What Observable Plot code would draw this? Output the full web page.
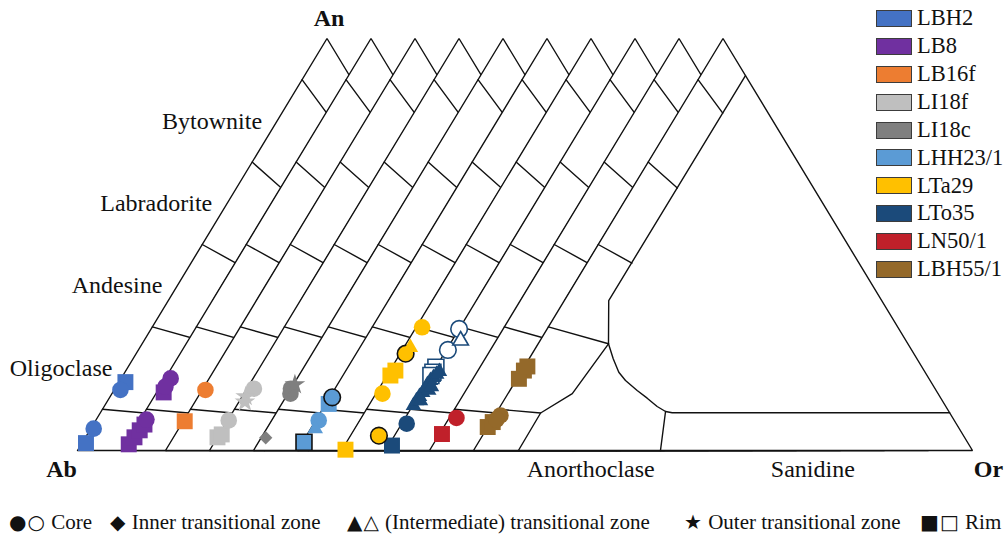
<!DOCTYPE html>
<html>
<head>
<meta charset="utf-8">
<script src="https://cdn.jsdelivr.net/npm/d3@7"></script>
<script src="https://cdn.jsdelivr.net/npm/@observablehq/plot@0.6"></script>
<style>
  body { margin: 0; background: #fff; font-family: "Liberation Serif", "Times New Roman", serif; }
  #wrap { position: relative; width: 1007px; height: 541px; overflow: hidden; background: #fff; }
  #chart { position: absolute; left: 0; top: 0; }
  #legend { position: absolute; left: 876px; top: 4.5px; }
  .row { display: flex; align-items: center; height: 27.9px; }
  .sw { width: 36px; height: 17px; box-sizing: border-box; border: 1.5px solid #3c3c3c; }
  .lab { margin-left: 5px; font-size: 22.5px; line-height: 1; color: #111; }
  #key { position: absolute; top: 508px; left: 0; width: 1007px; height: 28px; font-size: 21px; color: #111; white-space: nowrap; }
  #key > span { position: absolute; top: 0; line-height: 28px; }
  #key .g { font-family: "DejaVu Sans", sans-serif; font-size: 20px; letter-spacing: 1px; }
</style>
</head>
<body>
<div id="wrap">
  <div id="chart"></div>
  <div id="legend"></div>
  <div id="key">
    <span style="left:9px"><span class="g">●○</span> Core</span>
    <span style="left:110px"><span class="g">◆</span> Inner transitional zone</span>
    <span style="left:347px"><span class="g">▲△</span> (Intermediate) transitional zone</span>
    <span style="left:684px"><span class="g">★</span> Outer transitional zone</span>
    <span style="left:920px"><span class="g">■□</span> Rim</span>
  </div>
</div>
<script>
// ---------------- data ----------------
const samples = ["LBH2", "LB8", "LB16f", "LI18f", "LI18c", "LHH23/1", "LTa29", "LTo35", "LN50/1", "LBH55/1"];
const sampleColors = ["#4472C4", "#7030A0", "#ED7D31", "#BFBFBF", "#7F7F7F", "#5B9BD5", "#FFC000", "#1B4A7A", "#C0202A", "#94692A"];

// plagioclase divisions: An content on the Ab–An join, and where each division ends ([An, Or], fractions)
const plagAn = [0.1, 0.3, 0.5, 0.7, 0.9];
const plagEnd = [[0.091, 0.089], [0.259, 0.141], [0.455, 0.09], [0.637, 0.09], [0.819, 0.09]];
// plagioclase / alkali feldspar limit ([An, Or])
const plagLimitUpper = [[0.91, 0.09], [0.364, 0.089], [0.259, 0.141]];
const plagLimitLower = [[0.259, 0.141], [0.138, 0.129], [0.091, 0.089], [0, 0.09]];
// miscibility gap (solvus) outline ([An, Or])
const solvus = [[0.259, 0.141], [0.2226, 0.1687], [0.19, 0.1962], [0.17, 0.2196], [0.1456, 0.2552],
                [0.127, 0.2846], [0.1068, 0.3147], [0.0947, 0.3375], [0.0915, 0.3524], [0.0915, 0.9085]];
// anorthoclase / sanidine boundary
const sanidineLine = [[0.0947, 0.3375], [0, 0.3747]];

// field labels along the Ab–An join
const fieldNames = ["Oligoclase", "Andesine", "Labradorite", "Bytownite"];
const fieldAn = [0.2, 0.4, 0.6, 0.8];

// analyses: [zone, An %, Or %, flag]   flag: "o" open symbol, "k" black outline
const LBH2 = [["rim", 1.8, 0.8], ["core", 5.3, 0.6], ["rim", 16.6, 1.3], ["core", 14.7, 1.25]];
const LB8 = [["rim", 1.5, 0.7], ["rim", 3.2, 1.0], ["rim", 4.9, 1.2], ["rim", 6.3, 1.45], ["core", 7.5, 1.25],
             ["core", 17.5, 1.1], ["core", 15.5, 1.05], ["rim", 14.1, 1.4]];
const LB16f = [["core", 14.7, 0.65], ["rim", 7.1, 0.3]];
const LI18f = [["core", 15.0, 1.4], ["outer", 13.1, 0.7], ["outer", 11.8, 1.2], ["rim", 3.2, 0.0], ["rim", 3.9, 0.5], ["core", 7.3, 0.2]];
const LI18c = [["outer", 16.0, 0.3], ["core", 13.8, 0.5], ["core", 15.0, 0.0], ["inner", 3.1, 0.9]];
const LHH23 = [["core", 12.9, 0.5, "k"], ["rim", 11.3, 0.6], ["core", 7.3, 0.6], ["trans", 5.3, 0.9], ["rim", 2.0, 0.3, "k"]];
const LTa29 = [["core", 29.9, 1.2], ["trans", 25.0, 1.3], ["core", 23.5, 1.1, "k"], ["rim", 19.4, 1.1], ["rim", 18.2, 0.7],
               ["core", 13.8, 1.3], ["core", 3.6, 5.7, "k"], ["rim", 0.2, 0.7]];
const LTo35 = [["rim", 20.2, 0.0, "o"], ["rim", 19.0, 0.0, "o"], ["rim", 18.2, 0.0, "o"],
               ["core", 24.4, 0.3, "o"], ["core", 29.5, 0.0, "o"], ["trans", 26.7, 1.7, "o"],
               ["rim", 1.2, 0.7], ["core", 6.5, 1.0],
               ["trans", 10.9, 0.15], ["trans", 12.1, 0.15], ["trans", 13.1, 0.25], ["trans", 14.1, 0.4], ["trans", 15.1, 0.5],
               ["trans", 16.0, 0.4], ["trans", 17.0, 0.5], ["trans", 17.7, 0.75], ["trans", 18.5, 1.0], ["trans", 19.2, 1.2],
               ["trans", 14.6, 1.35], ["trans", 15.5, 1.45], ["trans", 12.1, 0.95]];
const LN50 = [["rim", 4.0, 0.5], ["core", 7.9, 1.45]];
const LBH55 = [["rim", 19.4, 0.4], ["rim", 17.4, 0.4], ["rim", 20.4, 0.6], ["core", 8.5, 1.15], ["rim", 5.7, 0.0], ["rim", 6.9, 0.4], ["core", 7.5, 0.85]];
const analyses = [LBH2, LB8, LB16f, LI18f, LI18c, LHH23, LTa29, LTo35, LN50, LBH55];

// ---------------- geometry helpers ----------------
const copyStep = 44 / 499;            // shift between the stacked diagrams (Or units)
const last = samples.length - 1;
const tx = (an, or, c) => (c - last) * copyStep + or + an / 2;

const triangle = [[0, 0], [1, 0], [0, 1], [0, 0]]; // Ab, An, Or, Ab as [An, Or]
const segments = [
  ...plagAn.map((a, k) => [[a, 0], plagEnd[k]]),
  plagLimitUpper, plagLimitLower, solvus, sanidineLine
];

const marks = [];
for (let c = 0; c <= last; c++) {
  const tri = triangle.map(([an, or]) => ({x: tx(an, or, c), y: an}));
  marks.push(Plot.line(tri, {x: "x", y: "y", fill: "white", stroke: "#111", strokeWidth: 1.4, strokeLinejoin: "miter"}));
  const segs = segments.flatMap((s, id) => s.map(([an, or]) => ({id, x: tx(an, or, c), y: an})));
  marks.push(Plot.line(segs, {x: "x", y: "y", z: "id", stroke: "#111", strokeWidth: 1.4}));
}

// texts
const fieldData = fieldNames.map((t, k) => ({t, x: tx(fieldAn[k], 0, 0), y: fieldAn[k]}));
marks.push(Plot.text(fieldData, {x: "x", y: "y", text: "t", textAnchor: "end", dx: -15, fontSize: 24, fill: "#111"}));
marks.push(Plot.text([{t: "An", x: tx(1, 0, 0), y: 1}], {x: "x", y: "y", text: "t", dx: 2, dy: -20, fontSize: 24, fontWeight: "bold", fill: "#111"}));
marks.push(Plot.text([{t: "Ab", x: tx(0, 0, 0), y: 0}], {x: "x", y: "y", text: "t", dx: -16, dy: 19, fontSize: 24, fontWeight: "bold", fill: "#111"}));
marks.push(Plot.text([{t: "Or", x: tx(0, 1, last), y: 0}], {x: "x", y: "y", text: "t", dx: 16, dy: 19, fontSize: 24, fontWeight: "bold", fill: "#111"}));
marks.push(Plot.text([{t: "Anorthoclase", x: tx(0, 0.235, last), y: 0}, {t: "Sanidine", x: tx(0, 0.68, last), y: 0}],
  {x: "x", y: "y", text: "t", dy: 19, fontSize: 24, fill: "#111"}));

// analyses
const pts = analyses.flatMap((list, c) => list.map(([zone, an, or, flag]) => ({
  zone, x: tx(an / 100, or / 100, c), y: an / 100,
  color: sampleColors[c], open: flag === "o", outline: flag === "k"
})));
const symbolOf = {rim: "square", core: "circle", trans: "triangle", inner: "diamond2", outer: "star"};
const rOf = {rim: 9, core: 8.3, trans: 5.8, inner: 6, outer: 6.5};
for (const z of ["rim", "core", "trans", "inner", "outer"]) {
  marks.push(Plot.dot(pts.filter(d => d.zone === z), {
    x: "x", y: "y", symbol: symbolOf[z], r: rOf[z],
    fill: d => d.open ? "white" : d.color,
    stroke: d => d.outline ? "#111" : d.open ? d.color : "none",
    strokeWidth: 1.6
  }));
}

const chart = Plot.plot({
  width: 1007, height: 500, margin: 0,
  x: {domain: [-473 / 499, 534 / 499], axis: null},
  y: {domain: [-50 / 412, 450 / 412], axis: null},
  color: {type: "identity"},
  style: {fontFamily: "'Liberation Serif', 'Times New Roman', serif", background: "white", overflow: "visible"},
  marks
});
document.getElementById("chart").appendChild(chart);

// colour legend
const leg = document.getElementById("legend");
samples.forEach((s, i) => {
  const row = document.createElement("div"); row.className = "row";
  const sw = document.createElement("div"); sw.className = "sw"; sw.style.background = sampleColors[i];
  const lab = document.createElement("span"); lab.className = "lab"; lab.textContent = s;
  row.appendChild(sw); row.appendChild(lab); leg.appendChild(row);
});
</script>
</body>
</html>
